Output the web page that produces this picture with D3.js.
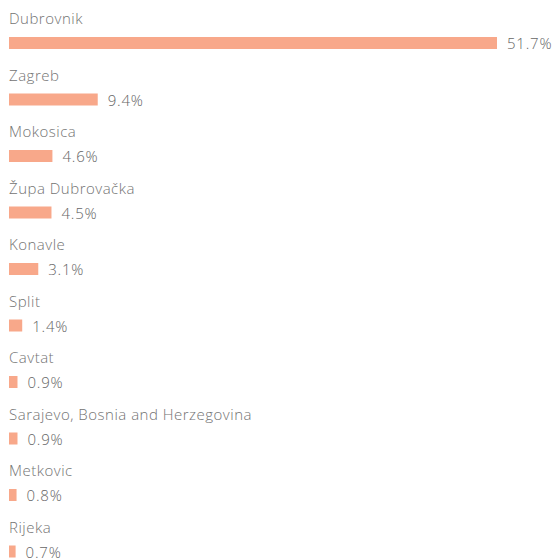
<!DOCTYPE html>
<html>
<head>
<meta charset="utf-8">
<script src="https://cdn.jsdelivr.net/npm/d3@7"></script>
<style>
  body { margin: 0; background: #fff; }
  text { font-family: "Open Sans", sans-serif; font-weight: 300; }
</style>
</head>
<body>
<div class="vis"></div>
<script>
const cities = ["Dubrovnik", "Zagreb", "Mokosica", "Župa Dubrovačka", "Konavle",
  "Split", "Cavtat", "Sarajevo, Bosnia and Herzegovina", "Metkovic", "Rijeka"];
const shares = [51.7, 9.4, 4.6, 4.5, 3.1, 1.4, 0.9, 0.9, 0.8, 0.7];

const width = 554, height = 560;
const data = cities.map((c, i) => ({ name: c, value: shares[i] }));

const svg = d3.select(".vis").append("svg")
  .attr("width", width)
  .attr("height", height);

const x = d3.scaleLinear()
  .domain([0, d3.max(shares)])
  .range([9, 497]);

const y = d3.scaleBand()
  .domain(cities)
  .range([0, 565])
  .paddingInner(0);

const row = svg.append("g")
  .selectAll("g")
  .data(data)
  .join("g")
  .attr("transform", (d) => `translate(0,${y(d.name)})`);

row.append("text")
  .attr("x", 9)
  .attr("y", 24)
  .attr("fill", "#737373")
  .style("font-size", "15px")
  .style("letter-spacing", "0.5px")
  .text((d) => d.name);

row.append("rect")
  .attr("x", x(0))
  .attr("y", 37)
  .attr("width", (d) => x(d.value) - x(0))
  .attr("height", 12)
  .attr("fill", "#f8a88a");

row.append("text")
  .attr("x", (d) => x(d.value) + 10)
  .attr("y", 49)
  .attr("fill", "#666")
  .style("font-size", "15px")
  .style("letter-spacing", "0.8px")
  .text((d) => d.value + "%");
</script>
</body>
</html>
